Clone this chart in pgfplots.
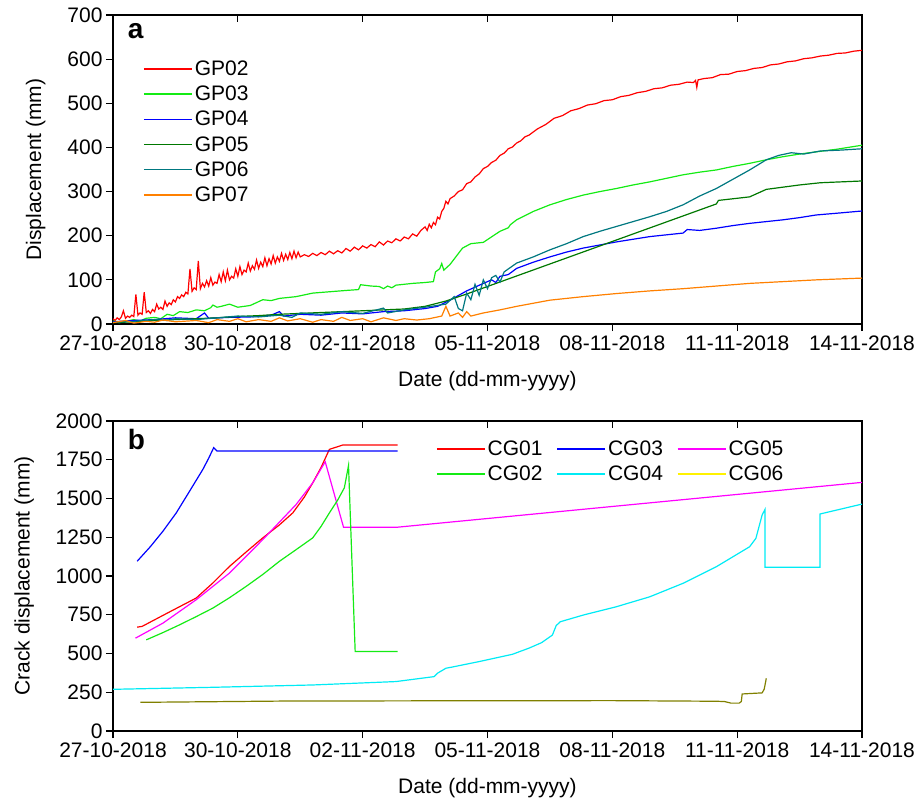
\documentclass[border=0pt]{standalone}
\usepackage{fontspec}
\setmainfont{Liberation Sans}
\usepackage{pgfplots}
\pgfplotsset{compat=1.18}
\definecolor{cGP02}{RGB}{255,0,0}
\definecolor{cGP03}{RGB}{20,235,20}
\definecolor{cGP04}{RGB}{0,0,255}
\definecolor{cGP05}{RGB}{0,120,0}
\definecolor{cGP06}{RGB}{0,120,128}
\definecolor{cGP07}{RGB}{255,128,0}
\definecolor{cCG04}{RGB}{0,235,245}
\definecolor{cCG05}{RGB}{255,0,255}
\definecolor{cCG06}{RGB}{128,128,0}
\newcommand{\fs}{\fontsize{21}{25}\selectfont}
\pgfplotsset{
  base/.style={
    width=749pt, scale only axis, xmin=0, xmax=18,
    xtick={0,3,...,18},
    xticklabels={27-10-2018,30-10-2018,02-11-2018,05-11-2018,08-11-2018,11-11-2018,14-11-2018},
    xtick pos=bottom, ytick pos=left, tick align=outside,
    major tick length=7pt,
    axis line style={line width=1.6pt},
    every tick/.style={black, line width=1.2pt},
    /pgf/number format/assume math mode=true,
    /pgf/number format/1000 sep={},
    tick label style={font=\fs},
    xticklabel style={yshift=-1pt},
    label style={font=\fs},
    xlabel style={yshift=-14pt},
    ylabel style={yshift=15pt},
    xlabel={Date (dd-mm-yyyy)},
    legend cell align=left,
    legend style={draw=none, fill=none, font=\fs},
    legend image code/.code={\draw[mark repeat=2,mark phase=2,#1] plot coordinates {(0pt,0pt) (24pt,0pt) (48pt,0pt)};},
    legend image post style={line width=1.6pt},
    every axis plot/.append style={line width=1.2pt},
  },
  topticks/.style={
    width=749pt, scale only axis, xmin=0, xmax=18,
    axis x line*=top, axis y line=none,
    xtick={0,3,...,18}, xticklabels={}, tick align=inside,
    major tick length=7pt,
    every tick/.style={black, line width=1.2pt},
    axis line style={line width=1.6pt},
  }
}
\begin{document}
\begin{tikzpicture}
\path[use as bounding box] (-113pt,15pt) rectangle (808pt,-789pt);
% ---------- panel a ----------
\begin{axis}[base, height=309pt, at={(0pt,0pt)}, anchor=north west,
  ymin=0, ymax=700, ytick={0,100,...,700},
  ylabel={Displacement (mm)},
  legend style={at={(0.036,0.865)}, anchor=north west, row sep=5pt}]
\addplot[cGP02] coordinates {
(0.00,12)(0.05,8)(0.10,14)(0.15,10)(0.2,16)(0.25,30)(0.3,13)(0.35,18)(0.4,15)(0.45,20)(0.5,17)(0.55,67)(0.6,20)(0.65,25)(0.7,22)(0.75,72)(0.8,26)(0.85,30)(0.9,24)(0.95,33)(1.0,28)(1.05,45)(1.1,34)(1.15,38)(1.2,33)(1.25,52)(1.3,40)(1.35,48)(1.4,44)(1.45,55)(1.5,50)(1.55,62)(1.6,58)(1.65,66)(1.7,62)(1.75,72)(1.8,68)(1.85,125)(1.9,74)(1.95,82)(2.0,78)(2.05,143)(2.1,80)(2.15,92)(2.2,84)(2.25,98)(2.3,86)(2.35,105)(2.4,88)(2.45,95)(2.5,92)(2.55,112)(2.6,96)(2.65,118)(2.7,98)(2.75,122)(2.8,100)(2.85,108)(2.9,104)(2.95,125)(3.0,108)(3.05,130)(3.1,112)(3.15,122)(3.2,118)(3.25,138)(3.3,120)(3.35,132)(3.4,124)(3.45,145)(3.5,126)(3.55,140)(3.6,130)(3.65,150)(3.7,132)(3.75,148)(3.8,136)(3.85,155)(3.9,138)(3.95,152)(4.0,142)(4.05,160)(4.1,144)(4.15,158)(4.2,146)(4.25,162)(4.3,148)(4.35,165)(4.4,150)(4.45,163)(4.5,152)(4.6,157)(4.7,153)(4.8,160)(4.9,155)(5.0,162)(5.1,157)(5.2,165)(5.3,159)(5.4,166)(5.5,161)(5.6,171)(5.7,165)(5.8,174)(5.9,168)(6.0,177)(6.1,172)(6.2,180)(6.3,175)(6.4,186)(6.5,179)(6.6,188)(6.7,184)(6.8,193)(6.9,188)(7.0,197)(7.1,193)(7.2,204)(7.3,199)(7.4,212)(7.5,220)(7.55,212)(7.6,226)(7.65,218)(7.7,230)(7.75,225)(7.8,242)(7.85,238)(7.9,255)(7.95,262)(8.0,278)(8.05,272)(8.1,284)(8.2,290)(8.3,300)(8.4,304)(8.5,318)(8.6,322)(8.7,333)(8.8,340)(8.9,352)(9.0,357)(9.1,366)(9.2,371)(9.3,382)(9.4,387)(9.5,397)(9.6,401)(9.7,410)(9.8,415)(9.9,424)(10.0,428)(10.2,442)(10.4,452)(10.6,466)(10.8,472)(11.0,483)(11.2,488)(11.4,496)(11.6,499)(11.8,506)(12.0,508)(12.2,515)(12.4,518)(12.6,524)(12.8,527)(13.0,533)(13.2,535)(13.4,541)(13.6,543)(13.8,548)(13.95,547)(14.0,552)(14.03,536)(14.06,553)(14.2,556)(14.4,558)(14.6,565)(14.8,566)(15.0,572)(15.2,574)(15.4,579)(15.6,581)(15.8,587)(16.0,589)(16.2,594)(16.4,596)(16.6,601)(16.8,603)(17.0,607)(17.2,609)(17.4,613)(17.6,614)(17.8,618)(18,620)};
\addlegendentry{GP02}
\addplot[cGP03] coordinates {
(0,7)(0.15,3)(0.3,6)(0.5,10)(0.65,7)(0.8,13)(1.0,15)(1.15,12)(1.3,22)(1.45,19)(1.6,28)(1.8,26)(2.0,32)(2.2,30)(2.35,37)(2.4,43)(2.5,38)(2.6,40)(2.8,45)(3.0,38)(3.3,42)(3.6,55)(3.8,53)(4.0,58)(4.4,62)(4.8,70)(5.2,73)(5.6,76)(5.9,78)(5.95,89)(6.2,86)(6.4,85)(6.5,80)(6.6,86)(6.7,82)(6.8,88)(7.0,90)(7.2,92)(7.5,94)(7.7,96)(7.75,118)(7.85,125)(7.9,137)(7.95,122)(8.1,135)(8.4,172)(8.6,182)(8.9,185)(9.3,210)(9.5,218)(9.55,225)(9.7,236)(10.1,255)(10.5,270)(10.9,282)(11.3,292)(11.7,300)(12.1,307)(12.5,315)(12.9,322)(13.3,330)(13.7,338)(14.1,344)(14.5,349)(14.9,357)(15.3,364)(15.7,372)(16.1,379)(16.5,385)(16.9,390)(17.4,396)(18,405)};
\addlegendentry{GP03}
\addplot[cGP04] coordinates {
(0,5)(0.5,8)(1.0,10)(1.5,14)(2.0,12)(2.2,25)(2.3,13)(2.8,15)(3.3,16)(3.8,20)(4.0,28)(4.1,18)(4.5,22)(5.0,20)(5.5,25)(6.0,23)(6.5,28)(7.0,30)(7.5,35)(7.8,40)(8.1,54)(8.5,75)(8.9,92)(9.1,100)(9.2,94)(9.3,108)(9.5,112)(9.7,126)(10.1,140)(10.5,152)(10.9,163)(11.3,172)(11.7,179)(12.1,186)(12.5,192)(12.9,198)(13.3,202)(13.7,206)(13.8,214)(14.1,212)(14.5,217)(14.9,223)(15.3,228)(15.7,232)(16.1,236)(16.5,241)(16.9,247)(17.4,251)(18,256)};
\addlegendentry{GP04}
\addplot[cGP05] coordinates {
(0,3)(0.5,5)(1,8)(1.5,10)(2,12)(2.5,14)(3,17)(3.5,19)(4,22)(4.5,24)(5,26)(5.5,28)(6,30)(6.5,32)(7,34)(7.5,40)(8,52)(8.5,68)(14.5,272)(14.55,280)(15.3,288)(15.7,305)(16.1,310)(16.5,315)(17,320)(18,324)};
\addlegendentry{GP05}
\addplot[cGP06] coordinates {
(0,4)(0.5,6)(1,10)(1.3,8)(1.5,12)(2,10)(2.5,14)(3,18)(3.5,16)(4,20)(4.3,15)(4.5,25)(5.0,22)(5.5,28)(6.0,24)(6.5,36)(6.6,25)(7.0,32)(7.5,38)(8.0,45)(8.2,62)(8.3,35)(8.4,30)(8.5,70)(8.6,55)(8.7,90)(8.8,65)(8.9,100)(9.0,80)(9.1,105)(9.2,110)(9.3,95)(9.4,118)(9.7,138)(10.1,152)(10.5,168)(10.9,182)(11.3,198)(11.7,210)(12.1,221)(12.5,232)(12.9,243)(13.3,255)(13.7,270)(14.1,290)(14.5,307)(14.9,328)(15.3,349)(15.7,372)(16.0,382)(16.3,388)(16.6,385)(17,392)(17.5,394)(18,397)};
\addlegendentry{GP06}
\addplot[cGP07] coordinates {
(0,3)(0.3,8)(0.5,2)(0.8,6)(1.0,4)(1.2,9)(1.5,5)(2.0,8)(2.3,3)(2.5,10)(2.8,6)(3.0,12)(3.2,5)(3.5,10)(3.8,6)(4.0,14)(4.2,7)(4.5,12)(4.8,4)(5.0,10)(5.3,6)(5.5,15)(5.7,8)(6.0,12)(6.2,5)(6.5,14)(6.8,8)(7.0,12)(7.3,9)(7.6,12)(7.9,18)(8.0,40)(8.1,18)(8.3,25)(8.4,15)(8.5,28)(8.6,18)(8.9,25)(9.3,32)(9.7,40)(10.1,47)(10.5,54)(11.3,62)(12.1,69)(12.9,75)(13.7,80)(14.5,86)(15.3,92)(16.1,96)(16.9,100)(18,104)};
\addlegendentry{GP07}
\node[font=\fontsize{28}{32}\selectfont\bfseries, anchor=north west] at (rel axis cs:0.015,0.985) {a};
\end{axis}
\begin{axis}[topticks, height=309pt, at={(0pt,0pt)}, anchor=north west, ymin=0, ymax=700]
\end{axis}
% ---------- panel b ----------
\begin{axis}[base, height=310pt, at={(0pt,-406pt)}, anchor=north west,
  ymin=0, ymax=2000, ytick={0,250,...,2000},
  ylabel={Crack displacement (mm)},
  legend columns=3,
  legend style={at={(0.427,0.95)}, anchor=north west, row sep=5pt, /tikz/every even column/.append style={column sep=12pt}}]
\addplot[red] coordinates {
(0.58,670)(0.7,675)(1.3,760)(2.0,858)(2.4,955)(2.8,1062)(3.2,1155)(3.6,1246)(4.0,1330)(4.32,1407)(4.6,1510)(4.8,1601)(5.0,1700)(5.2,1817)(5.52,1845)(6.84,1845)};
\addlegendentry{CG01}
\addplot[cGP04] coordinates {
(0.58,1095)(0.9,1190)(1.2,1289)(1.52,1407)(1.84,1547)(2.16,1688)(2.3,1760)(2.42,1828)(2.5,1806)(6.84,1806)};
\addlegendentry{CG03}
\addplot[cCG05] coordinates {
(0.54,599)(1.2,696)(2.0,847)(2.8,1019)(3.6,1235)(4.4,1461)(4.8,1601)(5.1,1737)(5.54,1315)(6.84,1315)(18,1604)};
\addlegendentry{CG05}
\addplot[cGP03] coordinates {
(0.8,588)(1.2,635)(1.6,685)(2.0,738)(2.4,793)(2.8,860)(3.2,933)(3.6,1010)(4.0,1095)(4.4,1170)(4.8,1246)(5.0,1320)(5.2,1407)(5.4,1490)(5.56,1569)(5.66,1713)(5.82,513)(6.84,513)};
\addlegendentry{CG02}
\addplot[cCG04] coordinates {
(0,269)(2.4,282)(4.8,297)(6.8,319)(7.72,351)(7.8,373)(8.0,405)(8.14,412)(8.8,448)(9.6,495)(10.0,535)(10.3,570)(10.56,619)(10.65,680)(10.75,705)(11.3,748)(12.1,802)(12.9,866)(13.7,953)(14.5,1060)(15.3,1189)(15.45,1243)(15.6,1394)(15.67,1430)(15.67,1056)(16.99,1056)(16.99,1400)(18,1464)};
\addlegendentry{CG04}
\addplot[cCG06, forget plot] coordinates {
(0.66,185)(4.0,193)(8,195)(12,196)(14.5,192)(14.7,190)(14.85,180)(15.05,180)(15.1,190)(15.12,239)(15.6,246)(15.65,270)(15.7,340)};
\addlegendimage{yellow}
\addlegendentry{CG06}
\node[font=\fontsize{28}{32}\selectfont\bfseries, anchor=north west] at (rel axis cs:0.015,0.985) {b};
\end{axis}
\begin{axis}[topticks, height=310pt, at={(0pt,-406pt)}, anchor=north west, ymin=0, ymax=2000]
\end{axis}
\end{tikzpicture}
\end{document}
